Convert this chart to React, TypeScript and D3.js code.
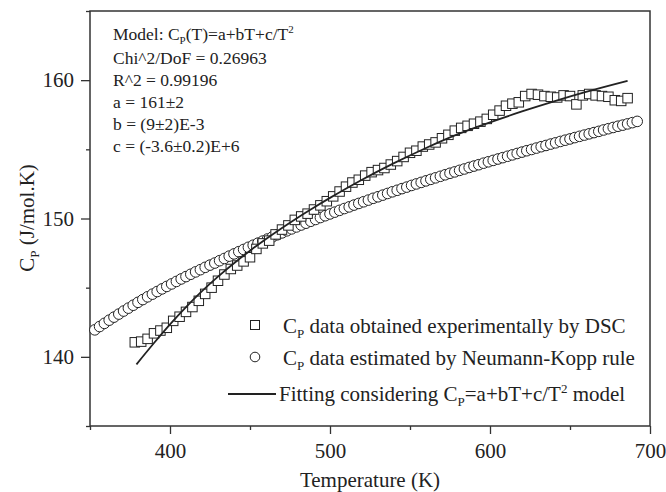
import React, { useRef, useEffect } from "react";
import * as d3 from "d3";

// DSC measured Cp (squares)
const dscT = [378, 382, 386, 390, 394, 398, 402, 406, 410, 414, 418, 422, 426, 430, 434, 438, 442, 446, 450, 454, 458, 462, 466, 470, 474, 478, 482, 486, 490, 494, 498, 502, 506, 510, 514, 518, 522, 526, 530, 534, 538, 542, 546, 550, 554, 558, 562, 566, 570, 574, 578, 582, 586, 590, 594, 598, 602, 606, 610, 614, 618, 622, 626, 630, 634, 638, 642, 646, 650, 654, 658, 662, 666, 670, 674, 678, 682, 686];
const dscCp = [141.05, 141.1, 141.3, 141.7, 141.9, 142.1, 142.6, 142.9, 143.25, 143.6, 144.05, 144.55, 145.0, 145.5, 145.95, 146.35, 146.6, 146.9, 147.2, 147.8, 148.2, 148.4, 148.85, 149.2, 149.5, 149.9, 150.15, 150.35, 150.65, 150.95, 151.25, 151.6, 151.95, 152.3, 152.6, 152.8, 153.1, 153.35, 153.5, 153.65, 153.9, 154.15, 154.45, 154.75, 154.9, 155.2, 155.35, 155.5, 155.8, 156.05, 156.35, 156.55, 156.7, 156.85, 157.0, 157.2, 157.5, 157.8, 158.15, 158.3, 158.4, 158.85, 159.0, 158.95, 158.85, 158.8, 158.75, 158.9, 158.85, 158.25, 158.9, 159.0, 158.9, 158.85, 158.8, 158.55, 158.5, 158.7];

// Neumann-Kopp estimate (circles)
const nkT = [353, 356, 359, 362, 365, 368, 371, 374, 377, 380, 383, 386, 389, 392, 395, 398, 401, 404, 407, 410, 413, 416, 419, 422, 425, 428, 431, 434, 437, 440, 443, 446, 449, 452, 455, 458, 461, 464, 467, 470, 473, 476, 479, 482, 485, 488, 491, 494, 497, 500, 503, 506, 509, 512, 515, 518, 521, 524, 527, 530, 533, 536, 539, 542, 545, 548, 551, 554, 557, 560, 563, 566, 569, 572, 575, 578, 581, 584, 587, 590, 593, 596, 599, 602, 605, 608, 611, 614, 617, 620, 623, 626, 629, 632, 635, 638, 641, 644, 647, 650, 653, 656, 659, 662, 665, 668, 671, 674, 677, 680, 683, 686, 689, 692];
const nkCp = [141.95, 142.19, 142.42, 142.65, 142.87, 143.09, 143.31, 143.52, 143.73, 143.94, 144.14, 144.34, 144.53, 144.72, 144.91, 145.09, 145.27, 145.45, 145.63, 145.8, 145.97, 146.14, 146.3, 146.47, 146.63, 146.78, 146.95, 147.11, 147.28, 147.44, 147.6, 147.76, 147.92, 148.07, 148.22, 148.37, 148.52, 148.67, 148.82, 148.96, 149.11, 149.25, 149.39, 149.53, 149.66, 149.8, 149.93, 150.07, 150.2, 150.33, 150.46, 150.59, 150.72, 150.84, 150.97, 151.09, 151.21, 151.33, 151.46, 151.57, 151.69, 151.81, 151.93, 152.04, 152.16, 152.27, 152.39, 152.5, 152.61, 152.72, 152.83, 152.94, 153.05, 153.16, 153.27, 153.37, 153.48, 153.58, 153.69, 153.79, 153.89, 154.0, 154.1, 154.2, 154.3, 154.4, 154.5, 154.6, 154.7, 154.8, 154.9, 154.99, 155.09, 155.19, 155.28, 155.38, 155.47, 155.57, 155.66, 155.75, 155.85, 155.94, 156.03, 156.12, 156.21, 156.3, 156.4, 156.49, 156.58, 156.67, 156.75, 156.84, 156.93, 157.02];

// fitted Cp = a + bT + c/T^2
const fitT = [379, 390, 400, 410, 420, 430, 440, 450, 460, 470, 480, 490, 500, 520, 540, 560, 580, 600, 620, 640, 660, 686];
const fitCp = [139.45, 141.0, 142.35, 143.6, 144.75, 145.8, 146.77, 147.67, 148.52, 149.32, 150.08, 150.8, 151.49, 152.8, 154.0, 155.1, 156.1, 156.95, 157.74, 158.47, 159.15, 159.95];

const xMajor = [400, 500, 600, 700];
const xMinor = [350, 450, 550, 650];
const yMajor = [140, 150, 160];
const yMinor = [135, 145, 155, 165];

const statLines = ["Chi^2/DoF = 0.26963", "R^2 = 0.99196", "a = 161\u00b12", "b = (9\u00b12)E-3", "c = (-3.6\u00b10.2)E+6"];

const FONT = "'Liberation Serif', 'Times New Roman', serif";
const INK = "#222";

const App = () => {
  const ref = useRef(null);

  useEffect(() => {
    document.body.style.margin = "0";
    const svg = d3.select(ref.current);
    svg.selectAll("*").remove();

    const x = d3.scaleLinear().domain([350, 700]).range([90, 650]);
    const y = d3.scaleLinear().domain([135, 165]).range([426, 11]);

    // axes
    const styleAxis = (g) => {
      g.select(".domain").remove();
      g.selectAll("line").attr("stroke", "#333").attr("stroke-width", 1.3);
      g.selectAll("text").attr("fill", INK).style("font-family", FONT).style("font-size", "21px");
    };
    svg.append("g").attr("transform", "translate(0,426)")
      .call(d3.axisBottom(x).tickValues(xMajor).tickSize(8).tickPadding(9).tickFormat(d3.format("d")))
      .call(styleAxis);
    svg.append("g").attr("transform", "translate(0,426)")
      .call(d3.axisBottom(x).tickValues(xMinor).tickSize(4).tickFormat(() => ""))
      .call(styleAxis);
    svg.append("g").attr("transform", "translate(90,0)")
      .call(d3.axisLeft(y).tickValues(yMajor).tickSize(9).tickPadding(7).tickFormat(d3.format("d")))
      .call(styleAxis);
    svg.append("g").attr("transform", "translate(90,0)")
      .call(d3.axisLeft(y).tickValues(yMinor).tickSize(4).tickFormat(() => ""))
      .call(styleAxis);

    svg.append("rect")
      .attr("x", x(350)).attr("y", y(165))
      .attr("width", x(700) - x(350)).attr("height", y(135) - y(165))
      .attr("fill", "none").attr("stroke", "#333").attr("stroke-width", 1.5);

    // circles
    svg.append("g").selectAll("circle")
      .data(nkT.map((t, i) => [t, nkCp[i]]))
      .enter().append("circle")
      .attr("cx", (d) => x(d[0])).attr("cy", (d) => y(d[1])).attr("r", 5.3)
      .attr("fill", "#fff").attr("stroke", INK).attr("stroke-width", 1);

    // squares
    const s = 9.5;
    svg.append("g").selectAll("rect")
      .data(dscT.map((t, i) => [t, dscCp[i]]))
      .enter().append("rect")
      .attr("x", (d) => x(d[0]) - s / 2).attr("y", (d) => y(d[1]) - s / 2)
      .attr("width", s).attr("height", s)
      .attr("fill", "#fff").attr("stroke", INK).attr("stroke-width", 1);

    // fit line
    const line = d3.line().x((d) => x(d[0])).y((d) => y(d[1])).curve(d3.curveMonotoneX);
    svg.append("path")
      .datum(fitT.map((t, i) => [t, fitCp[i]]))
      .attr("d", line).attr("fill", "none").attr("stroke", INK).attr("stroke-width", 1.8);

    // annotation
    const note = svg.append("g").attr("fill", INK).style("font-family", FONT).style("font-size", "17.5px");
    const m = note.append("text").attr("x", 113).attr("y", 40);
    m.append("tspan").text("Model: C");
    m.append("tspan").attr("dy", 4).style("font-size", "11px").text("P");
    m.append("tspan").attr("dy", -4).text("(T)=a+bT+c/T");
    m.append("tspan").attr("dy", -7).style("font-size", "11px").text("2");
    statLines.forEach((t, i) => {
      note.append("text").attr("x", 113).attr("y", 64 + i * 22).text(t);
    });

    // legend
    const leg = svg.append("g").attr("fill", INK).style("font-family", FONT).style("font-size", "21px");
    leg.append("rect").attr("x", 255 - 4.5).attr("y", 325 - 4.5).attr("width", 9).attr("height", 9)
      .attr("fill", "#fff").attr("stroke", INK);
    leg.append("circle").attr("cx", 255).attr("cy", 357).attr("r", 4.8)
      .attr("fill", "#fff").attr("stroke", INK);
    leg.append("line").attr("x1", 228).attr("x2", 276).attr("y1", 394).attr("y2", 394)
      .attr("stroke", INK).attr("stroke-width", 1.8);
    const cpText = (yy, rest) => {
      const t = leg.append("text").attr("x", 283).attr("y", yy);
      t.append("tspan").text("C");
      t.append("tspan").attr("dy", 5).style("font-size", "13px").text("P");
      t.append("tspan").attr("dy", -5).text(rest);
    };
    cpText(333, " data obtained experimentally by DSC");
    cpText(365, " data estimated by Neumann-Kopp rule");
    const f = leg.append("text").attr("x", 279).attr("y", 401);
    f.append("tspan").text("Fitting considering C");
    f.append("tspan").attr("dy", 5).style("font-size", "13px").text("P");
    f.append("tspan").attr("dy", -5).text("=a+bT+c/T");
    f.append("tspan").attr("dy", -8).style("font-size", "13px").text("2");
    f.append("tspan").attr("dy", 8).text(" model");

    // axis titles
    svg.append("text").attr("x", 370).attr("y", 487).attr("text-anchor", "middle")
      .attr("fill", INK).style("font-family", FONT).style("font-size", "21px").text("Temperature (K)");
    const yt = svg.append("text").attr("transform", "translate(34,218) rotate(-90)").attr("text-anchor", "middle")
      .attr("fill", INK).style("font-family", FONT).style("font-size", "21px");
    yt.append("tspan").text("C");
    yt.append("tspan").attr("dy", 5).style("font-size", "13px").text("P");
    yt.append("tspan").attr("dy", -5).text(" (J/mol.K)");
  }, []);

  return <svg ref={ref} width={666} height={492} style={{ display: "block" }} />;
};

export default App;
